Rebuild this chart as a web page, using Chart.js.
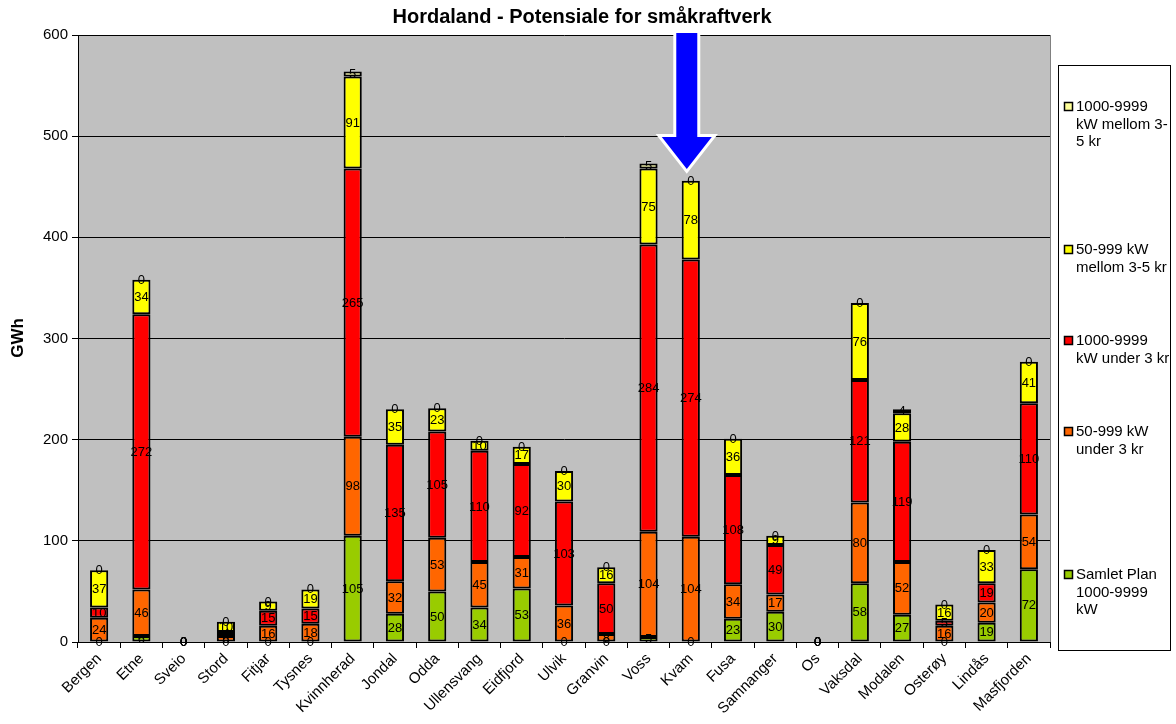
<!DOCTYPE html>
<html>
<head>
<meta charset="utf-8">
<title>Hordaland - Potensiale for småkraftverk</title>
<script src="https://cdn.jsdelivr.net/npm/chart.js@4/dist/chart.umd.min.js"></script>
<style>
  html, body { margin: 0; padding: 0; background: #ffffff; }
  #wrap { width: 1176px; height: 724px; }
</style>
</head>
<body>
<div id="wrap"><canvas id="chart" width="1176" height="724"></canvas></div>
<script>
// Municipalities in Hordaland
const categories = ['Bergen', 'Etne', 'Sveio', 'Stord', 'Fitjar', 'Tysnes', 'Kvinnherad', 'Jondal', 'Odda',
  'Ullensvang', 'Eidfjord', 'Ulvik', 'Granvin', 'Voss', 'Kvam', 'Fusa', 'Samnanger', 'Os', 'Vaksdal',
  'Modalen', 'Osterøy', 'Lindås', 'Masfjorden'];

// Potential in GWh, one array per class (stacked bottom to top)
const samletPlan   = [0, 6, 0, 0, 0, 0, 105, 28, 50, 34, 53, 0, 0, 5, 0, 23, 30, 0, 58, 27, 0, 19, 72];
const small_under3 = [24, 46, 0.4, 6, 16, 18, 98, 32, 53, 45, 31, 36, 8, 104, 104, 34, 17, 0.4, 80, 52, 16, 20, 54];
const large_under3 = [10, 272, 0, 4, 15, 15, 265, 135, 105, 110, 92, 103, 50, 284, 274, 108, 49, 0, 121, 119, 5, 19, 110];
const small_mellom = [37, 34, 0, 10, 9, 19, 91, 35, 23, 10, 17, 30, 16, 75, 78, 36, 9, 0, 76, 28, 16, 33, 41];
const large_mellom = [0, 0, 0, 0, 0, 0, 5, 0, 0, 0, 0, 0, 0, 5, 0, 0, 0, 0, 0, 4, 0, 0, 0];

const yTicks = [0, 100, 200, 300, 400, 500, 600];

const seriesNames = ['Samlet Plan 1000-9999 kW', '50-999 kW under 3 kr', '1000-9999 kW under 3 kr',
  '50-999 kW mellom 3-5 kr', '1000-9999 kW mellom 3-5 kr'];
const seriesColors = ['#99CC00', '#FF6600', '#FF0000', '#FFFF00', '#FFFF99'];
// Wrapped legend text, shown top to bottom in reverse stack order
const legendLines = [
  ['1000-9999', 'kW mellom 3-', '5 kr'],
  ['50-999 kW', 'mellom 3-5 kr'],
  ['1000-9999', 'kW under 3 kr'],
  ['50-999 kW', 'under 3 kr'],
  ['Samlet Plan', '1000-9999', 'kW']
];
const highlighted = 'Kvam';

const FONT = '"Liberation Sans", Arial, Helvetica, sans-serif';
const seriesData = [samletPlan, small_under3, large_under3, small_mellom, large_mellom];

const datasets = seriesData.map((d, i) => ({
  label: seriesNames[i],
  data: d,
  backgroundColor: seriesColors[i],
  borderColor: '#000000',
  borderWidth: 2,
  borderSkipped: false,
  categoryPercentage: 1.0,
  barPercentage: 0.43
}));

// Grey plot area and its frame
const plotBackground = {
  id: 'plotBackground',
  beforeDraw(chart) {
    const { ctx, chartArea: a } = chart;
    ctx.save();
    ctx.fillStyle = '#C0C0C0';
    ctx.fillRect(a.left, a.top, a.right - a.left, a.bottom - a.top);
    ctx.restore();
  },
  afterDraw(chart) {
    const { ctx, chartArea: a } = chart;
    ctx.save();
    ctx.strokeStyle = '#808080';
    ctx.lineWidth = 1;
    ctx.beginPath();
    ctx.moveTo(a.right + 0.5, a.top);
    ctx.lineTo(a.right + 0.5, a.bottom);
    ctx.stroke();
    ctx.restore();
  }
};

// Value of every segment written in its middle
const segmentLabels = {
  id: 'segmentLabels',
  afterDatasetsDraw(chart) {
    const { ctx } = chart;
    ctx.save();
    ctx.font = '13px ' + FONT;
    ctx.fillStyle = '#000000';
    ctx.textAlign = 'center';
    ctx.textBaseline = 'middle';
    chart.data.datasets.forEach((ds, i) => {
      const meta = chart.getDatasetMeta(i);
      meta.data.forEach((bar, j) => {
        const p = bar.getProps(['x', 'y', 'base'], true);
        const cy = (p.y + p.base) / 2;
        ctx.fillText(String(Math.round(ds.data[j])), p.x, cy + 0.5);
      });
    });
    ctx.restore();
  }
};

// Title, axis title, legend box and the arrow pointing at the highlighted municipality
const decorations = {
  id: 'decorations',
  afterDraw(chart) {
    const { ctx, chartArea: a } = chart;
    ctx.save();

    ctx.fillStyle = '#000000';
    ctx.font = 'bold 20px ' + FONT;
    ctx.textAlign = 'center';
    ctx.textBaseline = 'middle';
    ctx.fillText('Hordaland - Potensiale for småkraftverk', 582, 17);

    ctx.save();
    ctx.translate(18, 338);
    ctx.rotate(-Math.PI / 2);
    ctx.font = 'bold 17px ' + FONT;
    ctx.fillText('GWh', 0, 0);
    ctx.restore();

    // legend
    const lx = 1058, ly = 65, lw = 112, lh = 585;
    ctx.fillStyle = '#ffffff';
    ctx.fillRect(lx, ly, lw, lh);
    ctx.strokeStyle = '#000000';
    ctx.lineWidth = 1;
    ctx.strokeRect(lx + 0.5, ly + 0.5, lw, lh);
    const itemTop = [107, 250, 341, 432, 575];
    ctx.font = '15px ' + FONT;
    ctx.textAlign = 'left';
    legendLines.forEach((lines, k) => {
      const color = seriesColors[seriesColors.length - 1 - k];
      const y0 = itemTop[k];
      ctx.fillStyle = color;
      ctx.fillRect(1064.5, y0 - 4.5, 8, 8);
      ctx.strokeStyle = '#000000';
      ctx.lineWidth = 1.5;
      ctx.strokeRect(1064.5, y0 - 4.5, 8, 8);
      ctx.fillStyle = '#000000';
      lines.forEach((t, n) => ctx.fillText(t, 1076, y0 + n * 17.5));
    });

    // arrow
    const xs = chart.scales.x;
    const cx = xs.getPixelForValue(categories.indexOf(highlighted)) - 4;
    const top = a.top - 2, headY = a.top + 102, tipY = a.top + 134;
    const sw = 10.5, hw = 25;
    ctx.beginPath();
    ctx.moveTo(cx - sw, top);
    ctx.lineTo(cx + sw, top);
    ctx.lineTo(cx + sw, headY);
    ctx.lineTo(cx + hw, headY);
    ctx.lineTo(cx, tipY);
    ctx.lineTo(cx - hw, headY);
    ctx.lineTo(cx - sw, headY);
    ctx.closePath();
    ctx.lineJoin = 'miter';
    ctx.strokeStyle = '#ffffff';
    ctx.lineWidth = 6;
    ctx.stroke();
    ctx.fillStyle = '#0000FF';
    ctx.fill();

    ctx.restore();
  }
};

new Chart(document.getElementById('chart'), {
  type: 'bar',
  data: { labels: categories, datasets },
  plugins: [plotBackground, segmentLabels, decorations],
  options: {
    responsive: false,
    animation: false,
    devicePixelRatio: 1,
    layout: { padding: { left: 0, top: 35, right: 126, bottom: 0 } },
    plugins: {
      legend: { display: false },
      title: { display: false },
      tooltip: { enabled: false }
    },
    scales: {
      x: {
        stacked: true,
        afterFit(s) { s.height = 82; },
        grid: {
          display: true,
          offset: true,
          drawOnChartArea: false,
          color: '#000000',
          tickLength: 6,
          lineWidth: 1
        },
        border: { display: true, color: '#000000', width: 1 },
        ticks: {
          minRotation: 45,
          maxRotation: 45,
          padding: 2,
          color: '#000000',
          font: { family: FONT, size: 15 }
        }
      },
      y: {
        stacked: true,
        min: 0,
        max: 600,
        afterFit(s) { s.width = 78; },
        afterBuildTicks(s) { s.ticks = yTicks.map(v => ({ value: v })); },
        grid: {
          color: '#000000',
          lineWidth: 1,
          tickLength: 6,
          drawTicks: true
        },
        border: { display: true, color: '#000000', width: 1 },
        ticks: {
          padding: 4,
          color: '#000000',
          font: { family: FONT, size: 15 }
        }
      }
    }
  }
});
</script>
</body>
</html>
